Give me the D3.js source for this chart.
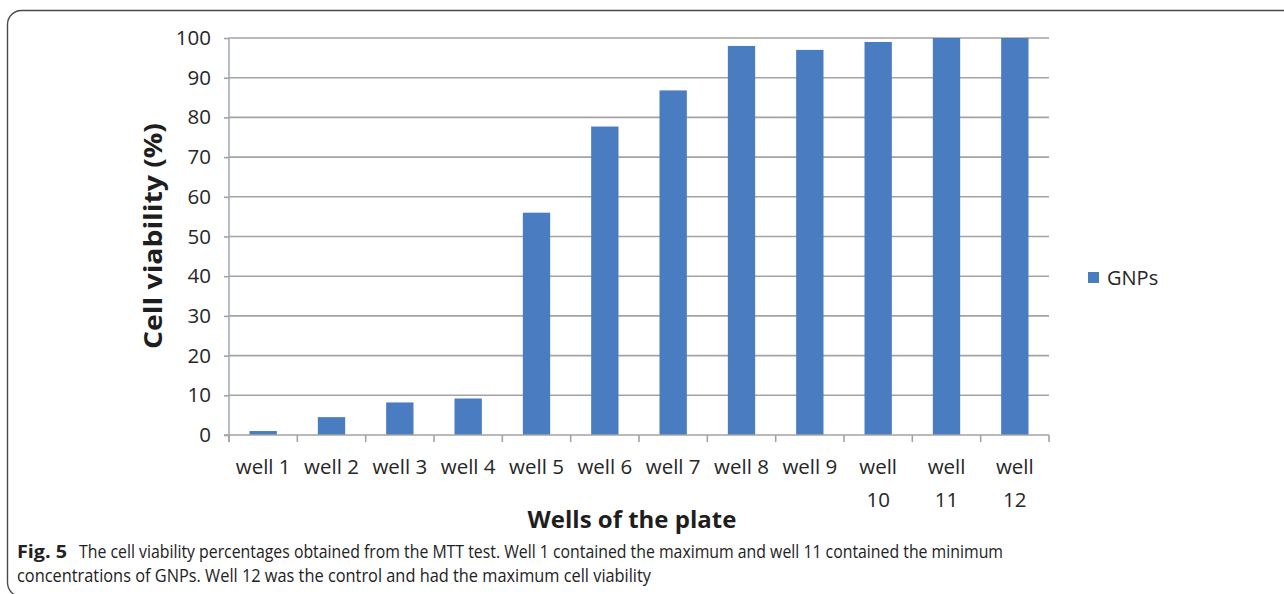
<!DOCTYPE html>
<html>
<head>
<meta charset="utf-8">
<script src="https://cdn.jsdelivr.net/npm/d3@7"></script>
<style>
  html, body { margin: 0; padding: 0; background: #fff; }
  svg { display: block; }
</style>
</head>
<body>
<svg id="chart" width="1284" height="594"></svg>
<script>
// Well labels (two-line labels are split on "\n")
const wells = ["well 1", "well 2", "well 3", "well 4", "well 5", "well 6",
               "well 7", "well 8", "well 9", "well\n10", "well\n11", "well\n12"];
// Cell viability (%) per well, series "GNPs"
const viability = [1, 4.5, 8.2, 9.2, 56, 77.7, 86.8, 98, 97, 99, 100, 100];
const yTicks = [0, 10, 20, 30, 40, 50, 60, 70, 80, 90, 100];
const seriesName = "GNPs";
const captionBold = "Fig. 5";
const captionLine1 = "The cell viability percentages obtained from the MTT test. Well 1 contained the maximum and well 11 contained the minimum";
const captionLine2 = "concentrations of GNPs. Well 12 was the control and had the maximum cell viability";

const svg = d3.select("#chart");
const barColor = "#4a7cc2";
const gridColor = "#a3a3a3";
const axisColor = "#a4acb8";
const font = "'Open Sans', 'Noto Sans', sans-serif";

// Figure frame with rounded left corners
svg.append("rect")
  .attr("x", 7.5).attr("y", 10.5)
  .attr("width", 1400).attr("height", 586)
  .attr("rx", 14).attr("ry", 14)
  .attr("fill", "none")
  .attr("stroke", "#4a4a4a")
  .attr("stroke-width", 1.4);

const plot = { left: 229, right: 1049, top: 38, bottom: 435 };

const x = d3.scaleBand()
  .domain(wells)
  .range([plot.left, plot.right])
  .paddingInner(0.6)
  .paddingOuter(0.3);

const y = d3.scaleLinear()
  .domain([0, 100])
  .range([plot.bottom, plot.top]);

// Horizontal gridlines
svg.append("g")
  .selectAll("line")
  .data(yTicks.filter(d => d > 0))
  .join("line")
  .attr("x1", plot.left).attr("x2", plot.right)
  .attr("y1", d => y(d)).attr("y2", d => y(d))
  .attr("stroke", gridColor)
  .attr("stroke-width", 1.6);

// Y axis
const yAxis = svg.append("g")
  .attr("transform", `translate(${plot.left},0)`)
  .call(d3.axisLeft(y).tickValues(yTicks).tickSize(5).tickPadding(13).tickSizeOuter(0));
yAxis.select(".domain").attr("stroke", axisColor).attr("stroke-width", 1.6)
  .attr("d", `M0,${plot.top}V${plot.bottom + 7}`);
yAxis.selectAll(".tick line").attr("stroke", gridColor).attr("stroke-width", 1.6);
yAxis.selectAll(".tick text")
  .attr("font-family", font).attr("font-size", 20.5).attr("fill", "#262626");

// Bars
svg.append("g")
  .selectAll("rect")
  .data(wells.map((w, i) => ({ w, v: viability[i] })))
  .join("rect")
  .attr("x", d => x(d.w))
  .attr("width", x.bandwidth())
  .attr("y", d => y(d.v))
  .attr("height", d => y(0) - y(d.v))
  .attr("fill", barColor);

// X axis line with category boundary ticks
const step = x.step();
const xAxis = svg.append("g");
xAxis.append("line")
  .attr("x1", plot.left - 5).attr("x2", plot.right)
  .attr("y1", plot.bottom).attr("y2", plot.bottom)
  .attr("stroke", gridColor).attr("stroke-width", 1.6);
xAxis.selectAll("line.tick")
  .data(d3.range(wells.length + 1))
  .join("line")
  .attr("class", "tick")
  .attr("x1", i => plot.left + i * step).attr("x2", i => plot.left + i * step)
  .attr("y1", plot.bottom).attr("y2", plot.bottom + 7)
  .attr("stroke", gridColor).attr("stroke-width", 1.6);

// X tick labels
const xl = svg.append("g")
  .selectAll("text")
  .data(wells)
  .join("text")
  .attr("x", d => x(d) + x.bandwidth() / 2)
  .attr("y", 474)
  .attr("text-anchor", "middle")
  .attr("font-family", font).attr("font-size", 20.5).attr("fill", "#262626");
xl.each(function(d) {
  const parts = d.split("\n");
  const t = d3.select(this);
  parts.forEach((p, i) => {
    t.append("tspan")
      .attr("x", x(d) + x.bandwidth() / 2)
      .attr("dy", i === 0 ? 0 : 33)
      .text(p);
  });
});

// Axis titles
svg.append("text")
  .attr("x", 632).attr("y", 528)
  .attr("text-anchor", "middle")
  .attr("font-family", font).attr("font-weight", 700).attr("font-size", 24)
  .attr("fill", "#1e1e1e")
  .text("Wells of the plate");

svg.append("text")
  .attr("transform", "translate(162,236) rotate(-90)")
  .attr("text-anchor", "middle")
  .attr("font-family", font).attr("font-weight", 700).attr("font-size", 25)
  .attr("fill", "#1e1e1e")
  .attr("textLength", 226).attr("lengthAdjust", "spacingAndGlyphs")
  .text("Cell viability (%)");

// Legend
svg.append("rect")
  .attr("x", 1088).attr("y", 272)
  .attr("width", 11).attr("height", 11)
  .attr("fill", barColor);
svg.append("text")
  .attr("x", 1107).attr("y", 285)
  .attr("font-family", font).attr("font-size", 20).attr("fill", "#262626")
  .text(seriesName);

// Caption
svg.append("text")
  .attr("x", 17).attr("y", 558)
  .attr("font-family", font).attr("font-size", 18).attr("font-weight", 700).attr("fill", "#222")
  .attr("textLength", 50).attr("lengthAdjust", "spacingAndGlyphs")
  .text(captionBold);

svg.append("text")
  .attr("x", 79).attr("y", 558)
  .attr("font-family", font).attr("font-size", 18).attr("fill", "#222")
  .attr("textLength", 924).attr("lengthAdjust", "spacingAndGlyphs")
  .text(captionLine1);

svg.append("text")
  .attr("x", 17).attr("y", 582)
  .attr("font-family", font).attr("font-size", 18).attr("fill", "#222")
  .attr("textLength", 634).attr("lengthAdjust", "spacingAndGlyphs")
  .text(captionLine2);
</script>
</body>
</html>
